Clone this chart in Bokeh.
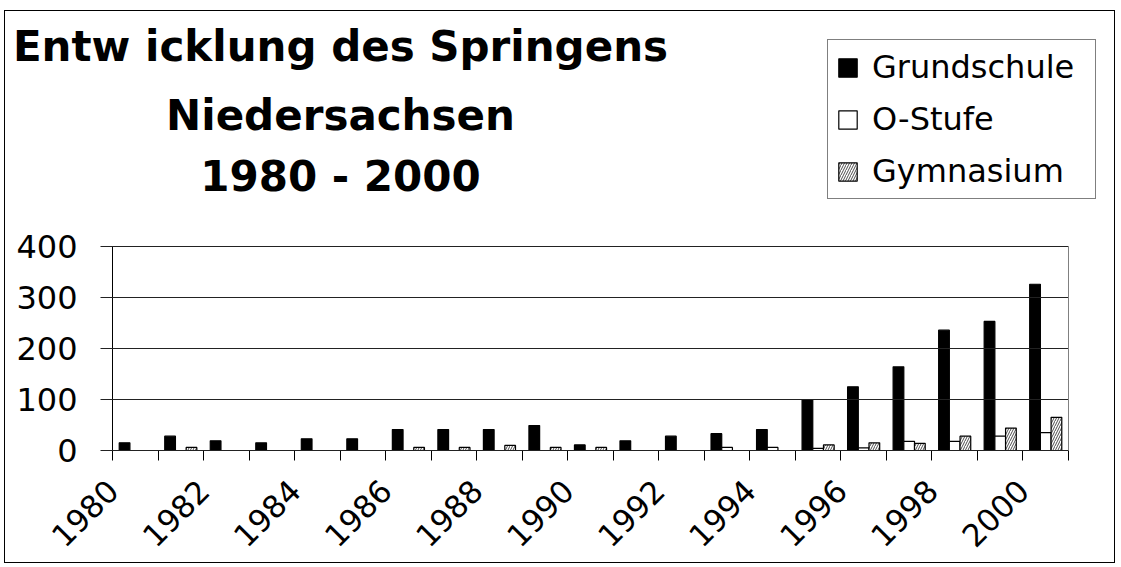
import math
from bokeh.plotting import figure
from bokeh.models import (Range1d, FixedTicker, CustomJSTickFormatter, Legend,
                          LegendItem, Label, ColumnDataSource, LinearAxis)
from bokeh.transform import dodge
from bokeh.embed import file_html
from bokeh.resources import INLINE

# ---- data -------------------------------------------------------------
years = list(range(1980, 2001))
grundschule = [15, 28, 19, 15, 23, 23, 41, 41, 41, 49, 11,
               19, 28, 33, 41, 100, 125, 164, 236, 253, 326]
o_stufe = [0, 0, 0, 0, 0, 0, 0, 0, 0, 0, 0,
           0, 0, 6, 6, 4, 5, 18, 18, 28, 35]
gymnasium = [0, 6, 0, 0, 0, 0, 6, 6, 10, 6, 6,
             0, 0, 0, 0, 11, 15, 14, 28, 44, 65]
series_names = ["Grundschule", "O-Stufe", "Gymnasium"]
y_ticks = [0, 100, 200, 300, 400]
title_lines = ["Entw icklung des Springens", "Niedersachsen", "1980 - 2000"]

# ---- layout constants (pixels) ----------------------------------------
FONT = "DejaVu Sans"
BAR_W = 0.235
LABEL_SHIFT = 0.49
W, H = 1111, 553
AX_LEFT = 107          # pixel of first category edge from canvas left
AX_RIGHT = 1063        # pixel of last category edge
AX_BOTTOM = 439        # pixel of value 0 from canvas top
AX_TOP = 235           # pixel of top value from canvas top

x0, x1 = years[0] - 0.5, years[-1] + 0.5
ppu_x = (AX_RIGHT - AX_LEFT) / (x1 - x0)
x_start = x0 - AX_LEFT / ppu_x
x_end = x1 + (W - AX_RIGHT) / ppu_x
ppu_y = (AX_BOTTOM - AX_TOP) / (y_ticks[-1] - y_ticks[0])
y_start = y_ticks[0] - (H - AX_BOTTOM) / ppu_y
y_end = y_ticks[0] + AX_BOTTOM / ppu_y

styles = [
    dict(fill_color="black", line_color="black"),
    dict(fill_color="white", line_color="black"),
    dict(fill_color="white", line_color="black",
         hatch_pattern="right_diagonal_line", hatch_color="black",
         hatch_scale=5, hatch_weight=0.7),
]

src = ColumnDataSource(dict(year=years, g=grundschule, o=o_stufe, gy=gymnasium))

p = figure(width=W, height=H, output_backend="svg", toolbar_location=None,
           x_range=Range1d(x_start, x_end), y_range=Range1d(y_start, y_end),
           min_border=0)
p.styles = {"border": "1px solid black", "margin-left": "4px",
            "margin-top": "10px", "background-color": "white"}
p.background_fill_color = "white"
p.border_fill_color = "white"
p.outline_line_color = None
p.xgrid.visible = False
p.ygrid.visible = False

renderers = []
for col_name, off, s in zip(["g", "o", "gy"], [-BAR_W, 0, BAR_W], styles):
    renderers.append(p.vbar(x=dodge("year", off, range=p.x_range), top=col_name,
                            width=BAR_W, source=src, line_width=1.2, **s))

# value axis: fixed at the first category edge, ticks drawn inward as grid
ya = p.yaxis[0]
ya.fixed_location = x0
ya.bounds = (y_ticks[0], y_ticks[-1])
ya.ticker = FixedTicker(ticks=y_ticks)
ya.major_label_text_font = FONT
ya.major_label_text_font_size = "32px"
ya.major_label_text_color = "black"
ya.major_tick_out = 12
ya.major_tick_in = AX_RIGHT - AX_LEFT
ya.major_tick_line_color = "#222222"
ya.minor_tick_line_color = None
ya.major_label_standoff = 23
ya.axis_line_color = "black"

# right edge of the plot area
ra = LinearAxis(fixed_location=x1, bounds=(y_ticks[0], y_ticks[-1]),
                ticker=FixedTicker(ticks=[]), axis_line_color="#808080",
                major_tick_line_color=None, minor_tick_line_color=None)
p.add_layout(ra, "right")

# category axis: fixed at value 0
xa = p.xaxis[0]
xa.fixed_location = y_ticks[0]
xa.bounds = (x0, x1)
xa.ticker = FixedTicker(
    ticks=[y - LABEL_SHIFT for y in years if y % 2 == 0],
    minor_ticks=[y - 0.5 for y in years] + [years[-1] + 0.5])
xa.formatter = CustomJSTickFormatter(
    args=dict(shift=LABEL_SHIFT), code="return String(Math.round(tick + shift))")
xa.major_label_orientation = math.pi / 4
xa.major_label_text_font = FONT
xa.major_label_text_font_size = "31px"
xa.major_label_text_color = "black"
xa.major_tick_line_color = None
xa.major_tick_out = 10
xa.major_tick_in = 0
xa.minor_tick_out = 10
xa.minor_tick_in = 0
xa.minor_tick_line_color = "black"
xa.major_label_standoff = 25
xa.axis_line_color = "black"

# ---- legend -----------------------------------------------------------
legend = Legend(
    items=[LegendItem(label=n, renderers=[r]) for n, r in zip(series_names, renderers)],
    location=(822, H - 188), orientation="vertical",
    border_line_color="black", border_line_width=1,
    background_fill_color="white", background_fill_alpha=1,
    label_text_font=FONT, label_text_font_size="32px", label_text_color="black",
    label_width=215, glyph_width=23, glyph_height=23, label_standoff=13,
    padding=8, spacing=14, margin=0)
p.add_layout(legend)

# ---- title ------------------------------------------------------------
title_base = [35, 104, 165]      # baselines, pixels from canvas top
for txt, tb in zip(title_lines, title_base):
    p.add_layout(Label(x=335, y=H - tb, x_units="screen", y_units="screen",
                       text=txt, text_align="center", text_baseline="alphabetic",
                       text_font=FONT, text_font_style="bold",
                       text_font_size="42px", text_color="black"))

open("out.html", "w").write(file_html(p, INLINE))
